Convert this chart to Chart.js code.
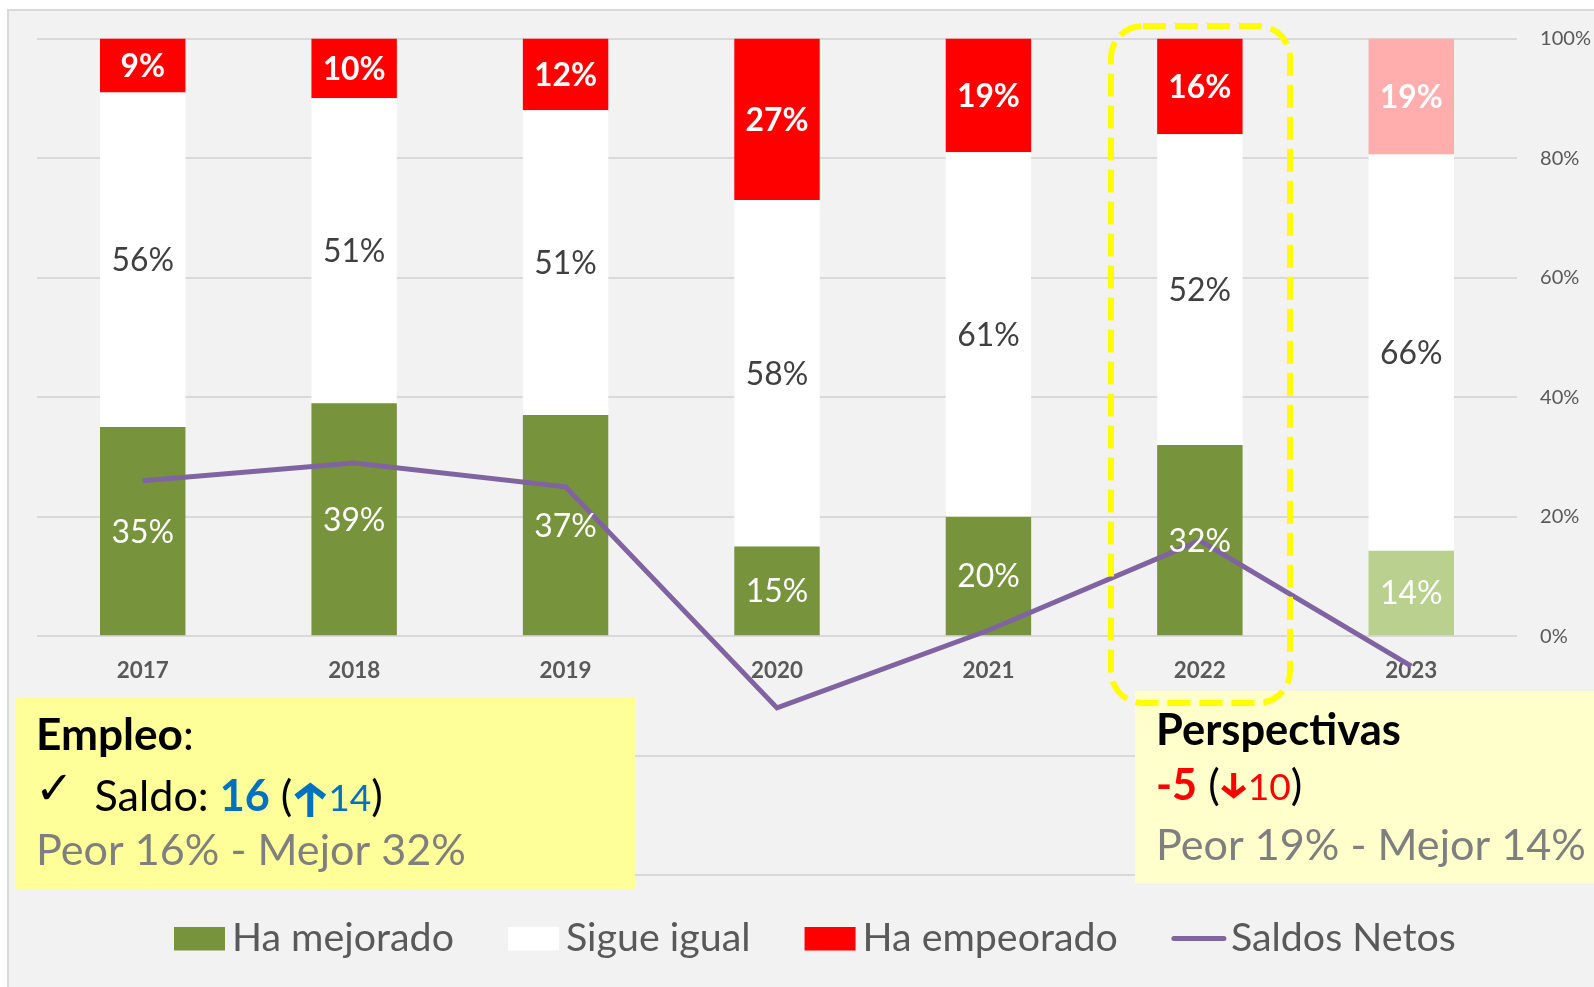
<!DOCTYPE html>
<html><head><meta charset="utf-8">
<script src="https://cdn.jsdelivr.net/npm/chart.js@4.4.1/dist/chart.umd.min.js"></script>
<style>html,body{margin:0;padding:0;background:#fff;overflow:hidden}canvas{display:block}</style>
</head><body>
<canvas id="c" width="1594" height="987"></canvas>
<script>
// ---- data ----
const years = ['2017','2018','2019','2020','2021','2022','2023'];
const mejorado  = [35, 39, 37, 15, 20, 32, 14.3];
const igual     = [56, 51, 51, 58, 61, 52, 66.3];
const empeorado = [ 9, 10, 12, 27, 19, 16, 19.4];
const saldos    = [26, 29, 25, -12, 1, 16, -5];
const yTickLabels = [0, 20, 40, 60, 80, 100];
const seriesNames = ['Ha mejorado', 'Sigue igual', 'Ha empeorado', 'Saldos Netos'];

const GREEN = '#77933c', GREEN_L = '#bad08e';
const RED = '#ff0000', RED_L = '#ffadad';
const PURPLE = '#8064a2';
const FAM = 'Lato';

const mctx = document.createElement('canvas').getContext('2d');
function fit(text, weight, family, w) {
  mctx.font = weight + ' 100px ' + family;
  return 100 * w / mctx.measureText(text).width;
}

function drawArrow(ctx, cx, top, bottom, halfW, headH, lw, color, up) {
  ctx.save();
  ctx.strokeStyle = color; ctx.lineWidth = lw; ctx.lineCap = 'butt'; ctx.lineJoin = 'miter';
  ctx.beginPath();
  if (up) {
    ctx.moveTo(cx, bottom); ctx.lineTo(cx, top + lw * 0.7);
    ctx.moveTo(cx - halfW, top + headH); ctx.lineTo(cx, top + lw * 0.7); ctx.lineTo(cx + halfW, top + headH);
  } else {
    ctx.moveTo(cx, top); ctx.lineTo(cx, bottom - lw * 0.7);
    ctx.moveTo(cx - halfW, bottom - headH); ctx.lineTo(cx, bottom - lw * 0.7); ctx.lineTo(cx + halfW, bottom - headH);
  }
  ctx.stroke();
  ctx.restore();
}

function drawRuns(ctx, x, y, runs) {
  ctx.textAlign = 'left'; ctx.textBaseline = 'alphabetic';
  runs.forEach(r => {
    if (r.arrow) {
      drawArrow(ctx, x + r.w / 2, y + r.top, y + r.bottom, r.halfW, r.headH, r.lw, r.color, r.arrow === 'up');
      x += r.w;
      return;
    }
    ctx.font = r.font; ctx.fillStyle = r.color;
    ctx.fillText(r.t, x, y);
    x += ctx.measureText(r.t).width;
  });
  return x;
}

function build() {
  const LABEL_N = fit('56%', 400, FAM, 62.5);
  const LABEL_B = fit('16%', 700, FAM, 63);
  const YEAR = fit('2020', 700, FAM, 52);
  const TICK = fit('100%', 400, FAM, 51);
  const LEG = fit('Ha mejorado', 400, FAM, 222);
  const BOXN = fit('Peor 16% - Mejor 32%', 400, FAM, 430);
  const BOXB1 = fit('Empleo', 700, FAM, 147);
  const BOXB2 = fit('Perspectivas', 700, FAM, 245);
  const CAP = 0.7165;

  const bgPlugin = {
    id: 'bg',
    beforeDraw(chart) {
      const ctx = chart.ctx;
      ctx.save();
      ctx.fillStyle = '#ffffff'; ctx.fillRect(0, 0, chart.width, chart.height);
      ctx.fillStyle = '#f2f2f2'; ctx.fillRect(7, 9, chart.width - 7, chart.height - 9);
      ctx.strokeStyle = '#d9d9d9'; ctx.lineWidth = 2;
      ctx.beginPath(); ctx.moveTo(8, chart.height); ctx.lineTo(8, 10); ctx.lineTo(chart.width, 10); ctx.stroke();
      ctx.restore();
    }
  };

  const underPlugin = {
    id: 'under',
    beforeDatasetsDraw(chart) {
      const ctx = chart.ctx;
      const xs = chart.scales.x, ys = chart.scales.y;
      ctx.save();
      // annotation boxes
      ctx.fillStyle = '#ffff99'; ctx.fillRect(15, 697, 620, 192);
      ctx.fillStyle = '#ffffcc'; ctx.fillRect(1135, 691, 459, 192);
      // year labels
      ctx.font = '700 ' + YEAR + 'px ' + FAM;
      ctx.fillStyle = '#595959'; ctx.textAlign = 'center'; ctx.textBaseline = 'alphabetic';
      const y0 = ys.getPixelForValue(0);
      years.forEach((yr, i) => ctx.fillText(yr, xs.getPixelForValue(i), y0 + 42));

      // box texts
      const B1 = '700 ' + BOXB1 + 'px ' + FAM;
      const B2 = '700 ' + BOXB2 + 'px ' + FAM;
      const N = '400 ' + BOXN + 'px ' + FAM;
      const NB = '700 ' + BOXN + 'px ' + FAM;
      const S = '400 ' + (BOXN * 0.86) + 'px ' + FAM;
      drawRuns(ctx, 36, 750, [{t: 'Empleo', font: B1, color: '#000'}, {t: ':', font: N, color: '#000'}]);
      drawRuns(ctx, 35, 804, [{t: '\u2713', font: '400 46px "DejaVu Sans"', color: '#000'}]);
      drawRuns(ctx, 94.5, 811, [
        {t: 'Saldo: ', font: N, color: '#000'},
        {t: '16', font: NB, color: '#0070c0'},
        {t: ' (', font: N, color: '#000'},
        {arrow: 'up', w: 36, top: -29, bottom: 6, halfW: 14, headH: 15, lw: 6, color: '#0070c0'},
        {t: '14', font: S, color: '#0070c0'},
        {t: ')', font: N, color: '#000'}
      ]);
      drawRuns(ctx, 36, 865, [{t: 'Peor 16% - Mejor 32%', font: N, color: '#7f7f7f'}]);

      drawRuns(ctx, 1156, 745, [{t: 'Perspectivas', font: B2, color: '#000'}]);
      drawRuns(ctx, 1156, 800, [
        {t: '-5', font: NB, color: RED},
        {t: ' (', font: N, color: '#000'},
        {arrow: 'down', w: 28, top: -27, bottom: -1, halfW: 11, headH: 12, lw: 5, color: RED},
        {t: '10', font: S, color: RED},
        {t: ')', font: N, color: '#000'}
      ]);
      drawRuns(ctx, 1156, 860, [{t: 'Peor 19% - Mejor 14%', font: N, color: '#7f7f7f'}]);
      ctx.restore();
    }
  };

  const labelPlugin = {
    id: 'segLabels',
    afterDatasetsDraw(chart) {
      const ctx = chart.ctx;
      const cfg = [
        {ds: 1, color: '#ffffff', weight: 400, size: LABEL_N},
        {ds: 2, color: '#404040', weight: 400, size: LABEL_N},
        {ds: 3, color: '#ffffff', weight: 700, size: LABEL_B}
      ];
      ctx.save();
      ctx.textAlign = 'center'; ctx.textBaseline = 'alphabetic';
      cfg.forEach(c => {
        const meta = chart.getDatasetMeta(c.ds);
        ctx.font = c.weight + ' ' + c.size + 'px ' + FAM;
        ctx.fillStyle = c.color;
        meta.data.forEach((bar, i) => {
          const v = chart.data.datasets[c.ds].data[i];
          const cy = (bar.y + bar.base) / 2;
          ctx.fillText(Math.round(v) + '%', bar.x, cy + c.size * CAP / 2);
        });
      });
      ctx.restore();
    }
  };

  const overPlugin = {
    id: 'over',
    afterDraw(chart) {
      const ctx = chart.ctx;
      ctx.save();
      // highlight around 2022
      ctx.strokeStyle = '#ffff00'; ctx.lineWidth = 6; ctx.setLineDash([23, 9]);
      const x0 = 1111, y0 = 26, x1 = 1290, y1 = 703, r = 32;
      ctx.beginPath();
      ctx.moveTo(x0 + r, y0); ctx.lineTo(x1 - r, y0); ctx.arcTo(x1, y0, x1, y0 + r, r);
      ctx.lineTo(x1, y1 - r); ctx.arcTo(x1, y1, x1 - r, y1, r);
      ctx.lineTo(x0 + r, y1); ctx.arcTo(x0, y1, x0, y1 - r, r);
      ctx.lineTo(x0, y0 + r); ctx.arcTo(x0, y0, x0 + r, y0, r);
      ctx.closePath(); ctx.stroke();
      ctx.setLineDash([]);
      // legend
      ctx.font = '400 ' + LEG + 'px ' + FAM;
      ctx.textAlign = 'left'; ctx.textBaseline = 'alphabetic';
      let x = 174;
      chart.data.datasets.slice().sort((a, b) => a.legendIndex - b.legendIndex).forEach(ds => {
        if (ds.type === 'line') {
          ctx.strokeStyle = ds.borderColor; ctx.lineWidth = 5; ctx.lineCap = 'round';
          ctx.beginPath(); ctx.moveTo(x + 2, 938.5); ctx.lineTo(x + 52, 938.5); ctx.stroke();
          x += 59;
        } else {
          ctx.fillStyle = Array.isArray(ds.backgroundColor) ? ds.backgroundColor[0] : ds.backgroundColor;
          ctx.fillRect(x, 927, 51, 23.5);
          x += 58;
        }
        ctx.fillStyle = '#595959';
        ctx.fillText(ds.label, x, 950.5);
        x += ctx.measureText(ds.label).width + 54;
      });
      ctx.restore();
    }
  };

  const colorsFor = (base, light) => years.map((y, i) => i === years.length - 1 ? light : base);

  new Chart(document.getElementById('c'), {
    type: 'bar',
    data: {
      labels: years,
      datasets: [
        {type: 'line', label: seriesNames[3], data: saldos, borderColor: PURPLE, backgroundColor: PURPLE,
         borderWidth: 5, pointRadius: 0, pointHoverRadius: 0, tension: 0, order: 0, stack: 'line', legendIndex: 3},
        {label: seriesNames[0], data: mejorado, backgroundColor: colorsFor(GREEN, GREEN_L), order: 1, stack: 'bars', legendIndex: 0},
        {label: seriesNames[1], data: igual, backgroundColor: '#ffffff', order: 1, stack: 'bars', legendIndex: 1},
        {label: seriesNames[2], data: empeorado, backgroundColor: colorsFor(RED, RED_L), order: 1, stack: 'bars', legendIndex: 2}
      ]
    },
    options: {
      responsive: false,
      animation: false,
      devicePixelRatio: 1,
      datasets: {bar: {barPercentage: 0.404, categoryPercentage: 1, borderWidth: 0}},
      layout: {padding: {left: 37, right: 0, top: 38.6, bottom: 111.7}},
      plugins: {legend: {display: false}, tooltip: {enabled: false}},
      scales: {
        x: {display: false, stacked: true},
        y: {
          stacked: true, position: 'right', min: -40, max: 100,
          afterFit(scale) { scale.width = 77; },
          afterBuildTicks(scale) {
            scale.ticks = [-40, -20].concat(yTickLabels).map(v => ({value: v}));
          },
          border: {display: false},
          grid: {color: '#d9d9d9', lineWidth: 2, drawTicks: false},
          ticks: {
            padding: 23, color: '#595959', font: {family: FAM, size: TICK},
            callback: v => (yTickLabels.includes(v) ? v + '%' : '')
          }
        }
      }
    },
    plugins: [bgPlugin, underPlugin, labelPlugin, overPlugin]
  });
}

const loads = ['400 20px Lato', '700 20px Lato', '400 20px "DejaVu Sans"', '700 20px "DejaVu Sans"']
  .map(f => document.fonts.load(f).catch(() => null));
Promise.all(loads).then(build, build);
</script>
</body></html>
